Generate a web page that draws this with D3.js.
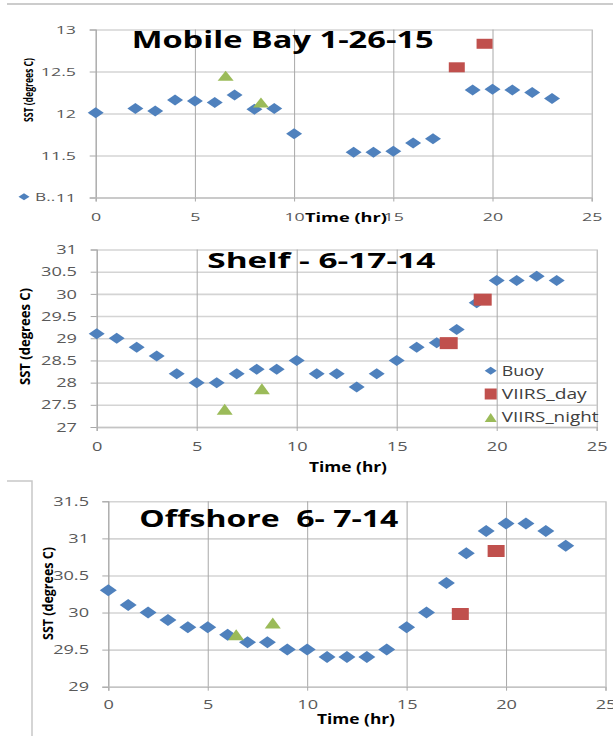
<!DOCTYPE html>
<html>
<head>
<meta charset="utf-8">
<script src="https://cdn.jsdelivr.net/npm/d3@7"></script>
<style>
  body { margin: 0; background: #fff; }
  text { font-family: "Open Sans", sans-serif; }
</style>
</head>
<body>
<svg id="chart" width="613" height="736"></svg>
<script>
// Mobile Bay 1-26-15
const mobileHours = [0, 2, 3, 4, 5, 6, 7, 8, 9, 10, 13, 14, 15, 16, 17, 19, 20, 21, 22, 23];
const mobileBuoy = [12.01, 12.06, 12.03, 12.16, 12.15, 12.13, 12.22, 12.05, 12.06, 11.76,
  11.54, 11.54, 11.55, 11.65, 11.70, 12.28, 12.29, 12.28, 12.25, 12.18];
const mobileDayHours = [18.2, 19.6];
const mobileDay = [12.55, 12.83];
const mobileNightHours = [6.55, 8.33];
const mobileNight = [12.45, 12.13];

// Shelf - 6-17-14
const shelfHours = [0, 1, 2, 3, 4, 5, 6, 7, 8, 9, 10, 11, 12, 13, 14, 15, 16, 17, 18, 19, 20, 21, 22, 23];
const shelfBuoy = [29.1, 29.0, 28.8, 28.6, 28.2, 28.0, 28.0, 28.2, 28.3, 28.3, 28.5, 28.2,
  28.2, 27.9, 28.2, 28.5, 28.8, 28.9, 29.2, 29.8, 30.3, 30.3, 30.4, 30.3];
const shelfDayHours = [17.6, 19.3];
const shelfDay = [28.89, 29.87];
const shelfNightHours = [6.4, 8.26];
const shelfNight = [27.4, 27.86];

// Offshore 6- 7-14
const offHours = [0, 1, 2, 3, 4, 5, 6, 7, 8, 9, 10, 11, 12, 13, 14, 15, 16, 17, 18, 19, 20, 21, 22, 23];
const offBuoy = [30.3, 30.1, 30.0, 29.9, 29.8, 29.8, 29.7, 29.6, 29.6, 29.5, 29.5, 29.4,
  29.4, 29.4, 29.5, 29.8, 30.0, 30.4, 30.8, 31.1, 31.2, 31.2, 31.1, 30.9];
const offDayHours = [17.7, 19.5];
const offDay = [29.98, 30.83];
const offNightHours = [6.43, 8.27];
const offNight = [29.7, 29.86];

const xTicks = [0, 5, 10, 15, 20, 25];
const seriesNames = ["Buoy", "VIIRS_day", "VIIRS_night"];

const blue = "#4f81bd", red = "#c0504d", green = "#9bbb59";
const tickColor = "#595959";

const svg = d3.select("#chart");

// marker paths (wider than tall, like the stretched source)
const diamond = (w, h) => `M0,${-h/2}L${w/2},0L0,${h/2}L${-w/2},0Z`;
const square = (w, h) => `M${-w/2},${-h/2}h${w}v${h}h${-w}Z`;
const triangle = (w, h) => `M0,${-h/2}L${w/2},${h/2}L${-w/2},${h/2}Z`;

function stretch(sel, k) {
  sel.each(function () {
    const w = this.getComputedTextLength();
    d3.select(this).attr("textLength", w * k).attr("lengthAdjust", "spacingAndGlyphs");
  });
}
function fit(sel, len) {
  sel.attr("textLength", len).attr("lengthAdjust", "spacingAndGlyphs");
}

const panels = [
  {
    x0: 95.7, x1: 591.7, top: 29.5, bottom: 197.5,
    yDomain: [11, 13], yTicks: [11, 11.5, 12, 12.5, 13],
    labelRight: 76, font: 11.5, k: 1.55, xLabelY: 220.5,
    title: "Mobile Bay 1-26-15", titleX: 131.7, titleY: 48.3, titleLen: 302, titleFont: 23,
    xTitleX: 346, xTitleY: 221.7, xTitleLen: 82, xTitleFont: 13,
    yTitleX: 29, yTitleY: 90, yTitleLen: 64, yTitleFont: 12.5,
    mk: { d: [16, 11], s: [16, 10], t: [16, 10] },
    buoy: [mobileHours, mobileBuoy], day: [mobileDayHours, mobileDay], night: [mobileNightHours, mobileNight]
  },
  {
    x0: 96.7, x1: 596.7, top: 249.5, bottom: 427,
    yDomain: [27, 31], yTicks: [27, 27.5, 28, 28.5, 29, 29.5, 30, 30.5, 31],
    labelRight: 77, font: 13, k: 1.4, xLabelY: 451.3,
    title: "Shelf - 6-17-14", titleX: 207.3, titleY: 268.3, titleLen: 228, titleFont: 22,
    xTitleX: 348, xTitleY: 472, xTitleLen: 78, xTitleFont: 13.5,
    yTitleX: 25.4, yTitleY: 336.5, yTitleLen: 97, yTitleFont: 14,
    mk: { d: [16, 11], s: [18, 12], t: [16, 11] },
    buoy: [shelfHours, shelfBuoy], day: [shelfDayHours, shelfDay], night: [shelfNightHours, shelfNight]
  },
  {
    x0: 108.3, x1: 605.5, top: 501.3, bottom: 686.7,
    yDomain: [29, 31.5], yTicks: [29, 29.5, 30, 30.5, 31, 31.5],
    labelRight: 89, font: 12.5, k: 1.45, xLabelY: 709.5,
    title: "Offshore  6- 7-14", titleX: 139.3, titleY: 526.7, titleLen: 259, titleFont: 23,
    xTitleX: 356, xTitleY: 724, xTitleLen: 78, xTitleFont: 13.5,
    yTitleX: 47.7, yTitleY: 593.5, yTitleLen: 93, yTitleFont: 14,
    mk: { d: [17, 12], s: [17, 12], t: [16, 11] },
    buoy: [offHours, offBuoy], day: [offDayHours, offDay], night: [offNightHours, offNight]
  }
];

// page decorations from the pasted images
svg.append("line").attr("x1", 7).attr("x2", 613).attr("y1", 4).attr("y2", 4)
  .attr("stroke", "#cccccc").attr("stroke-width", 2);
svg.append("path").attr("d", "M7,481H32V736")
  .attr("fill", "none").attr("stroke", "#c8c8c8").attr("stroke-width", 1.5);

panels.forEach(p => {
  const x = d3.scaleLinear().domain([0, 25]).range([p.x0, p.x1]);
  const y = d3.scaleLinear().domain(p.yDomain).range([p.bottom, p.top]);
  const g = svg.append("g");

  // horizontal gridlines
  g.append("g")
    .attr("transform", `translate(${p.x0},0)`)
    .call(d3.axisLeft(y).tickValues(p.yTicks).tickSize(-(p.x1 - p.x0)).tickFormat(""))
    .call(a => a.select(".domain").remove())
    .call(a => a.selectAll("line").attr("stroke", "#d4d4d4").attr("stroke-width", 1.6));

  // vertical gridlines
  g.append("g")
    .attr("transform", `translate(0,${p.bottom})`)
    .call(d3.axisBottom(x).tickValues(xTicks).tickSize(-(p.bottom - p.top)).tickFormat(""))
    .call(a => a.select(".domain").remove())
    .call(a => a.selectAll("line").attr("stroke", "#a8a8a8").attr("stroke-width", 1));

  // y axis with labels
  const yAx = g.append("g")
    .attr("transform", `translate(${p.x0},0)`)
    .call(d3.axisLeft(y).tickValues(p.yTicks).tickSize(6).tickPadding(p.x0 - p.labelRight - 6)
      .tickFormat(d3.format("")));
  yAx.select(".domain").attr("stroke", "#a8a8a8");
  yAx.selectAll("line").attr("stroke", "#a8a8a8");
  yAx.selectAll("text").attr("fill", tickColor).style("font-size", p.font + "px")
    .style("font-family", "Open Sans").call(stretch, p.k);

  // x axis with labels
  const xAx = g.append("g")
    .attr("transform", `translate(0,${p.bottom})`)
    .call(d3.axisBottom(x).tickValues(xTicks).tickSize(4));
  xAx.select(".domain").attr("stroke", "#c4c4c4").attr("stroke-width", 1.5);
  xAx.selectAll("line").attr("stroke", "#a8a8a8");
  xAx.selectAll("text").attr("y", p.xLabelY - p.bottom).attr("dy", null)
    .attr("fill", tickColor).style("font-size", p.font + "px")
    .style("font-family", "Open Sans").call(stretch, p.k);

  // axis titles
  g.append("text")
    .attr("x", p.xTitleX).attr("y", p.xTitleY)
    .attr("text-anchor", "middle")
    .style("font-size", p.xTitleFont + "px").style("font-weight", "bold")
    .text("Time (hr)").call(fit, p.xTitleLen);
  g.append("text")
    .attr("transform", `translate(${p.yTitleX},${p.yTitleY}) rotate(-90)`)
    .attr("text-anchor", "middle").attr("dy", "0.35em")
    .style("font-size", p.yTitleFont + "px").style("font-weight", "bold")
    .text("SST (degrees C)").call(fit, p.yTitleLen);

  // chart title
  g.append("text")
    .attr("x", p.titleX).attr("y", p.titleY)
    .style("font-size", p.titleFont + "px").style("font-weight", "bold")
    .style("white-space", "pre")
    .text(p.title).call(fit, p.titleLen);

  // series
  const pts = (xs, ys) => xs.map((h, i) => [h, ys[i]]);
  g.append("g").selectAll("path").data(pts(...p.buoy)).join("path")
    .attr("transform", d => `translate(${x(d[0])},${y(d[1])})`)
    .attr("d", diamond(...p.mk.d)).attr("fill", blue);
  g.append("g").selectAll("path").data(pts(...p.day)).join("path")
    .attr("transform", d => `translate(${x(d[0])},${y(d[1])})`)
    .attr("d", square(...p.mk.s)).attr("fill", red);
  g.append("g").selectAll("path").data(pts(...p.night)).join("path")
    .attr("transform", d => `translate(${x(d[0])},${y(d[1])})`)
    .attr("d", triangle(...p.mk.t)).attr("fill", green);
});

// truncated legend of the top chart
svg.append("path").attr("transform", "translate(24,196.7)").attr("d", diamond(11, 7)).attr("fill", blue);
svg.append("text").attr("x", 35).attr("y", 201).attr("fill", tickColor)
  .style("font-size", "11.5px").text("B..").call(stretch, 1.5);

// legend of the middle chart
const legendY = [370.7, 394, 417.5];
const legendShapes = [diamond(12, 8), square(12, 11), triangle(12, 9)];
const legendColors = [blue, red, green];
const legendLens = [42, 85, 96.7];
const leg = svg.append("g").selectAll("g").data(seriesNames).join("g")
  .attr("transform", (d, i) => `translate(490.7,${legendY[i]})`);
leg.append("path").attr("d", (d, i) => legendShapes[i]).attr("fill", (d, i) => legendColors[i]);
leg.append("text").attr("x", 11).attr("dy", "0.35em").attr("fill", "#404040")
  .style("font-size", "14px").text(d => d)
  .attr("textLength", (d, i) => legendLens[i]).attr("lengthAdjust", "spacingAndGlyphs");
</script>
</body>
</html>
